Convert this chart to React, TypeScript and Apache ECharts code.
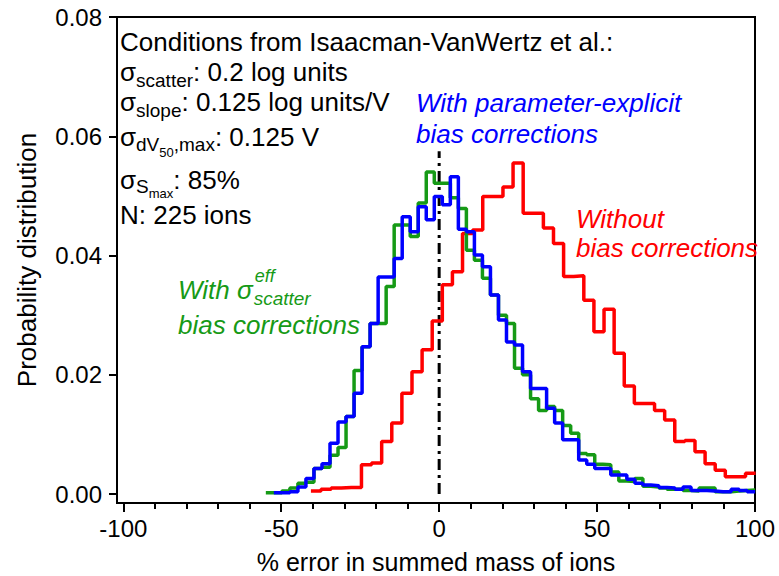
import React, { useEffect, useRef } from "react";
import * as echarts from "echarts";

// ---- axis ticks ----
const xTickValues = [-100, -50, 0, 50, 100];
const xMinorTickValues = [-90, -80, -70, -60, -40, -30, -20, -10, 10, 20, 30, 40, 60, 70, 80, 90];
const yTickValues = [0, 0.02, 0.04, 0.06, 0.08];

// ---- "Without bias corrections" (red) histogram ----
const redBinStart = -40.6;
const redBinWidth = 3.2;
const redValues = [
  0.0005, 0.0008, 0.001, 0.0011, 0.0011, 0.0049, 0.0052, 0.0088, 0.0119, 0.0169,
  0.0205, 0.0242, 0.029, 0.0351, 0.0373, 0.0437, 0.0443, 0.0499, 0.0499, 0.0515,
  0.0555, 0.0471, 0.0471, 0.0446, 0.042, 0.0365, 0.0366, 0.0325, 0.0272, 0.031,
  0.0236, 0.0181, 0.0152, 0.0152, 0.014, 0.0124, 0.0088, 0.009, 0.0071, 0.0051,
  0.004, 0.0029, 0.0029, 0.0035,
];

// ---- green / blue histograms share bins ----
const gbBinStart = -54.88;
const gbBinWidth = 2.54;
const greenValues = [
  0.0002, 0.0002, 0.0005, 0.001, 0.0018, 0.002, 0.0043, 0.0045, 0.0065, 0.0078,
  0.013, 0.0207, 0.0247, 0.0286, 0.0286, 0.0348, 0.0451, 0.0451, 0.0432, 0.0488,
  0.054, 0.0521, 0.0521, 0.0497, 0.0479, 0.0409, 0.0392, 0.0362, 0.0334, 0.03,
  0.0286, 0.0211, 0.02, 0.016, 0.014, 0.0147, 0.014, 0.0115, 0.0102, 0.0068,
  0.0066, 0.005, 0.0049, 0.0037, 0.0022, 0.0021, 0.0026, 0.0013, 0.0012, 0.001,
  0.0008, 0.0008, 0.0006, 0.0005, 0.001, 0.001, 0.0004, 0.0004, 0.0005, 0.0006,
  0.0007,
];
const blueFirstBin = 1;
const blueValues = [
  0.0002, 0.0002, 0.0004, 0.0012, 0.0026, 0.0043, 0.0051, 0.0085, 0.0121, 0.013,
  0.0169, 0.0247, 0.0286, 0.0364, 0.0364, 0.0395, 0.0465, 0.044, 0.0482, 0.046,
  0.0499, 0.0485, 0.0532, 0.0444, 0.044, 0.0401, 0.0381, 0.0334, 0.0292, 0.0255,
  0.025, 0.0205, 0.0177, 0.0177, 0.0144, 0.0119, 0.0091, 0.0091, 0.0057, 0.005,
  0.0043, 0.0043, 0.0032, 0.0032, 0.0025, 0.0018, 0.0015, 0.0014, 0.0011, 0.001,
  0.0008, 0.0012, 0.0006, 0.0006, 0.0005, 0.0004, 0.0004, 0.0008, 0.0006, 0.0004,
];

// ---- zero reference line ----
const zeroLineX = [0, 0];
const zeroLineY = [0, 0.0575];

const FONT = '"Liberation Sans", Arial, sans-serif';
const RED = "#ff0000";
const GREEN = "#169a16";
const BLUE = "#0000ff";

function stepData(start: number, width: number, values: number[]) {
  const pts: number[][] = values.map((v, i) => [start + i * width, v]);
  pts.push([start + values.length * width, values[values.length - 1]]);
  return pts;
}

type Seg = { t: string; s: number; dy?: number };

export default function App() {
  const ref = useRef<HTMLDivElement>(null);

  useEffect(() => {
    if (!ref.current) return;
    const chart = echarts.init(ref.current, undefined, { renderer: "svg" });

    const ctx = document.createElement("canvas").getContext("2d")!;
    const measure = (t: string, s: number, italic: boolean) => {
      ctx.font = `${italic ? "italic " : ""}${s}px ${FONT}`;
      return ctx.measureText(t).width;
    };

    const graphics: any[] = [];
    const addLine = (x0: number, y: number, segs: Seg[], color: string, italic: boolean) => {
      let x = x0;
      segs.forEach((sg) => {
        graphics.push({
          type: "text",
          x,
          y: y + (sg.dy || 0),
          z: 100,
          silent: true,
          style: {
            text: sg.t,
            fontSize: sg.s,
            fontFamily: FONT,
            fontStyle: italic ? "italic" : "normal",
            fill: color,
            textAlign: "left",
            textVerticalAlign: "middle",
          },
        });
        x += measure(sg.t, sg.s, italic);
      });
    };

    const M = 26; // main annotation font size
    // black conditions block
    addLine(120, 42, [{ t: "Conditions from Isaacman-VanWertz et al.:", s: M }], "#000", false);
    addLine(120, 72, [{ t: "σ", s: M }, { t: "scatter", s: 19, dy: 8 }, { t: ": 0.2 log units", s: M }], "#000", false);
    addLine(120, 102, [{ t: "σ", s: M }, { t: "slope", s: 19, dy: 8 }, { t: ": 0.125 log units/V", s: M }], "#000", false);
    addLine(120, 137, [
      { t: "σ", s: M },
      { t: "dV", s: 19, dy: 7 },
      { t: "50", s: 13, dy: 15 },
      { t: ",max", s: 19, dy: 7 },
      { t: ": 0.125 V", s: M },
    ], "#000", false);
    addLine(120, 180, [{ t: "σ", s: M }, { t: "S", s: 19, dy: 6 }, { t: "max", s: 13, dy: 13 }, { t: ": 85%", s: M }], "#000", false);
    addLine(120, 215, [{ t: "N: 225 ions", s: M }], "#000", false);

    // blue label
    addLine(416, 103, [{ t: "With parameter-explicit", s: M }], BLUE, true);
    addLine(416, 134, [{ t: "bias corrections", s: M }], BLUE, true);

    // red label
    addLine(576, 219, [{ t: "Without", s: M }], RED, true);
    addLine(576, 248, [{ t: "bias corrections", s: M }], RED, true);

    // green label
    const wsW = measure("With σ", M, true);
    addLine(178, 290, [{ t: "With σ", s: M }], GREEN, true);
    addLine(178 + wsW + 2, 276, [{ t: "eff", s: 18 }], GREEN, true);
    addLine(178 + wsW + 1, 298, [{ t: "scatter", s: 19 }], GREEN, true);
    addLine(178, 325, [{ t: "bias corrections", s: M }], GREEN, true);

    const axisBlack = { color: "#000", width: 2 };

    chart.setOption({
      animation: false,
      grid: {
        left: 117,
        right: 24,
        top: 17,
        bottom: 73,
        outerBoundsMode: "none",
        containLabel: false,
        show: true,
        borderColor: "#000",
        borderWidth: 2,
        backgroundColor: "transparent",
      },
      xAxis: [
        {
          type: "value",
          min: -102,
          max: 100,
          position: "bottom",
          axisLine: { show: true, onZero: false, lineStyle: axisBlack },
          axisTick: { show: true, customValues: xTickValues, length: 9, lineStyle: axisBlack },
          axisLabel: {
            customValues: xTickValues,
            fontSize: 24,
            fontFamily: FONT,
            color: "#000",
            margin: 13,
            formatter: (v: number) => String(v),
          },
          splitLine: { show: false },
          name: "% error in summed mass of ions",
          nameLocation: "middle",
          nameGap: 46,
          nameTextStyle: { fontSize: 25, fontFamily: FONT, color: "#000" },
        },
        {
          type: "value",
          min: -102,
          max: 100,
          position: "bottom",
          axisLine: { show: false, onZero: false },
          axisTick: { show: true, customValues: xMinorTickValues, length: 6, lineStyle: axisBlack },
          axisLabel: { show: false },
          splitLine: { show: false },
        },
      ],
      yAxis: {
        type: "value",
        min: -0.0015,
        max: 0.08,
        axisLine: { show: true, onZero: false, lineStyle: axisBlack },
        axisTick: { show: true, customValues: yTickValues, length: 8, lineStyle: axisBlack },
        axisLabel: {
          customValues: yTickValues,
          fontSize: 24,
          fontFamily: FONT,
          color: "#000",
          margin: 15,
          formatter: (v: number) => v.toFixed(2),
        },
        splitLine: { show: false },
        name: "Probability distribution",
        nameLocation: "middle",
        nameGap: 77,
        nameTextStyle: { fontSize: 26, fontFamily: FONT, color: "#000" },
      },
      series: [
        {
          type: "line",
          data: zeroLineX.map((x, i) => [x, zeroLineY[i]]),
          symbol: "none",
          lineStyle: { color: "#000", width: 3, type: [11, 5, 3, 5] },
          z: 1,
        },
        {
          type: "line",
          step: "end",
          data: stepData(redBinStart, redBinWidth, redValues),
          symbol: "none",
          lineStyle: { color: RED, width: 3.5 },
          z: 2,
        },
        {
          type: "line",
          step: "end",
          data: stepData(gbBinStart, gbBinWidth, greenValues),
          symbol: "none",
          lineStyle: { color: GREEN, width: 3.5 },
          z: 3,
        },
        {
          type: "line",
          step: "end",
          data: stepData(gbBinStart + blueFirstBin * gbBinWidth, gbBinWidth, blueValues),
          symbol: "none",
          lineStyle: { color: BLUE, width: 3.5 },
          z: 4,
        },
      ],
      graphic: graphics,
    });

    return () => chart.dispose();
  }, []);

  return (
    <div
      ref={ref}
      style={{ position: "fixed", left: 0, top: 0, width: 779, height: 576, background: "#fff" }}
    />
  );
}
